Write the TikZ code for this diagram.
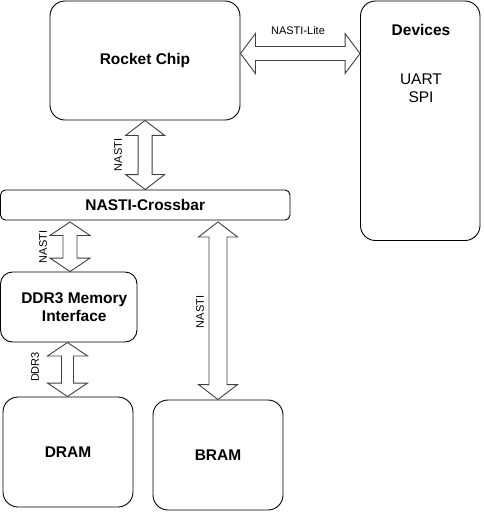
\documentclass[tikz,border=0pt]{standalone}
\usepackage{fontspec}
\setmainfont{Liberation Sans}
\usetikzlibrary{calc}
\tikzset{
  box/.style={draw=black, line width=0.9pt, rounded corners=#1, inner sep=0pt, align=center,
    font=\fontsize{15.5}{18}\selectfont\bfseries},
  box/.default=15pt,
  blk/.style={draw=black!75, line width=0.9pt, fill=white, line join=miter},
  lbl/.style={font=\fontsize{11}{13}\selectfont, inner sep=0pt},
  txt/.style={font=\fontsize{15.5}{18}\selectfont, inner sep=0pt, align=center},
}
% block double arrow: from #1 to #2, shaft half width #3, head half width #4, head length #5
\newcommand\blockarrow[5]{%
  \draw[blk] (#1)
    -- ($($(#1)!#5!(#2)$)!#4!90:(#2)$)
    -- ($($(#1)!#5!(#2)$)!#3!90:(#2)$)
    -- ($($(#2)!#5!(#1)$)!#3!-90:(#1)$)
    -- ($($(#2)!#5!(#1)$)!#4!-90:(#1)$)
    -- (#2)
    -- ($($(#2)!#5!(#1)$)!#4!90:(#1)$)
    -- ($($(#2)!#5!(#1)$)!#3!90:(#1)$)
    -- ($($(#1)!#5!(#2)$)!#3!-90:(#2)$)
    -- ($($(#1)!#5!(#2)$)!#4!-90:(#2)$)
    -- cycle;}
\begin{document}
\begin{tikzpicture}[x=1pt,y=1pt]
\useasboundingbox (0,0) rectangle (484,-512);
\node[box, minimum width=190pt, minimum height=119pt] (rc) at (145,-60.5) {Rocket Chip};
\node[box, minimum width=119.5pt, minimum height=239.5pt] (dev) at (420.25,-120.75) {};
\node[txt, font=\fontsize{15.5}{18}\selectfont\bfseries] (devt) at (421,-30) {Devices};
\node[txt] (devl) at (421,-88) {UART\\SPI};
\node[box=5pt, minimum width=289.5pt, minimum height=30pt] (xbar) at (145.25,-205) {NASTI-Crossbar};
\node[box=12pt, minimum width=136.5pt, minimum height=70pt] (ddr) at (68.75,-307) {\hspace*{11pt}DDR3 Memory\\\hspace*{11pt}Interface};
\node[box, minimum width=130pt, minimum height=110pt] (dram) at (68,-452) {DRAM};
\node[box, minimum width=130pt, minimum height=110pt] (bram) at (218,-455) {BRAM};

\coordinate (l1) at ([yshift=7pt]rc.east);
\coordinate (l2) at (l1 -| dev.west);
\blockarrow{l1}{l2}{7pt}{20pt}{15pt}
\node[lbl] (llite) at (298,-31) {NASTI-Lite};

\blockarrow{rc.south}{xbar.north}{7pt}{19.5pt}{15pt}
\node[lbl, rotate=90] (lrc) at (118,-155) {NASTI};

\coordinate (d1) at ([yshift=-1.5pt]xbar.south -| 70,0);
\coordinate (d2) at (d1 |- ddr.north);
\blockarrow{d1}{d2}{7pt}{20pt}{13.5pt}
\node[lbl, rotate=90] (lddr) at (43,-247) {NASTI};

\coordinate (b1) at ([yshift=-1.5pt]xbar.south -| bram.north);
\blockarrow{b1}{bram.north}{9pt}{19.5pt}{15pt}
\node[lbl, rotate=90] (lbram) at (200,-312) {NASTI};

\coordinate (m1) at (ddr.south -| 67.5,0);
\coordinate (m2) at (m1 |- dram.north);
\blockarrow{m1}{m2}{6pt}{20pt}{13.5pt}
\node[lbl, rotate=90] (lmem) at (35,-367) {DDR3};
\end{tikzpicture}
\end{document}
